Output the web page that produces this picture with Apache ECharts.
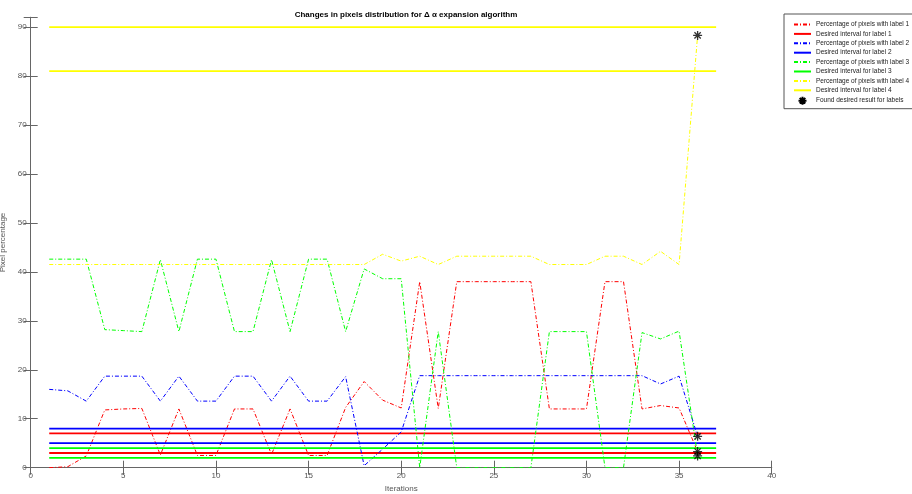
<!DOCTYPE html>
<html>
<head>
<meta charset="utf-8">
<script src="https://cdn.jsdelivr.net/npm/echarts@6/dist/echarts.min.js"></script>
<style>
  html, body { margin: 0; padding: 0; background: #fff; }
  #chart { width: 912px; height: 494px; }
</style>
</head>
<body>
<div id="chart"></div>
<script>
// iterations on the x axis
let iterations = [1, 2, 3, 4, 5, 6, 7, 8, 9, 10, 11, 12, 13, 14, 15, 16, 17, 18,
    19, 20, 21, 22, 23, 24, 25, 26, 27, 28, 29, 30, 31, 32, 33, 34, 35, 36];

// percentage of pixels per label
let label1 = [0, 0.2, 2.4, 11.8, 12, 12.1, 2.6, 12, 2.5, 2.5, 12, 12, 2.7, 12, 2.5, 2.5, 12.3, 17.6,
    13.8, 12.2, 38, 12.1, 38, 38, 38, 38, 38, 12, 12, 12, 38, 38, 12, 12.7, 12.2, 3.3];
let label2 = [16, 15.7, 13.6, 18.7, 18.7, 18.7, 13.6, 18.7, 13.6, 13.6, 18.7, 18.7, 13.6, 18.7, 13.6, 13.6, 18.6, 0.4,
    3.8, 7.3, 18.8, 18.8, 18.8, 18.8, 18.8, 18.8, 18.8, 18.8, 18.8, 18.8, 18.8, 18.8, 18.8, 17.1, 18.7, 6.4];
let label3 = [42.6, 42.6, 42.6, 28.2, 28, 27.8, 42.5, 27.8, 42.6, 42.6, 27.8, 27.8, 42.5, 27.8, 42.6, 42.6, 27.8, 40.6,
    38.6, 38.6, 0, 27.8, 0, 0, 0, 0, 0, 27.8, 27.8, 27.8, 0, 0, 27.6, 26.3, 27.9, 2.4];
let label4 = [41.5, 41.5, 41.5, 41.5, 41.5, 41.5, 41.5, 41.5, 41.5, 41.5, 41.5, 41.5, 41.5, 41.5, 41.5, 41.5, 41.5, 41.5,
    43.6, 42.2, 43.2, 41.5, 43.2, 43.2, 43.2, 43.2, 43.2, 41.5, 41.5, 41.5, 43.2, 43.2, 41.5, 44.2, 41.5, 88.3];

// desired intervals [low, high], drawn from iteration 1 to 37
let intervalSpan = [1, 37];
let interval1 = [3, 7];
let interval2 = [5, 8];
let interval3 = [2, 4];
let interval4 = [81, 90];

// found result at the last iteration
let foundX = 36;
let foundY = [88.3, 6.4, 3.3, 2.4];

let xTicks = { min: 0, max: 40, step: 5 };
let yTicks = { min: 0, max: 92, step: 10 };

let legendNames = [
    'Percentage of pixels with label 1', 'Desired interval for label 1',
    'Percentage of pixels with label 2', 'Desired interval for label 2',
    'Percentage of pixels with label 3', 'Desired interval for label 3',
    'Percentage of pixels with label 4', 'Desired interval for label 4',
    'Found desired result for labels'
];

const dashDot = [4, 2, 1, 2];
const fontFam = '"Liberation Sans", Arial, sans-serif';

function pairs(ys) {
    return iterations.map((x, i) => [x, ys[i]]);
}

function percentSeries(name, ys, color) {
    return {
        name: name, type: 'line', data: pairs(ys),
        symbol: 'none', animation: false,
        lineStyle: { color: color, width: 1, type: dashDot },
        itemStyle: { color: color }
    };
}

function intervalSeries(name, iv, color) {
    // two horizontal lines, separated by a null so they are not joined
    return {
        name: name, type: 'line', symbol: 'none', animation: false,
        connectNulls: false,
        data: [[intervalSpan[0], iv[0]], [intervalSpan[1], iv[0]], [null, null],
               [intervalSpan[0], iv[1]], [intervalSpan[1], iv[1]]],
        lineStyle: { color: color, width: 1.8, type: 'solid' },
        itemStyle: { color: color }
    };
}

const asterisk = 'path://M5,0L5,10M0,5L10,5M1.5,1.5L8.5,8.5M8.5,1.5L1.5,8.5';
const axisColor = '#666';
const labelColor = '#555';

// legend entries: line samples without a marker, the last one with the asterisk
let legendData = legendNames.map((n, i) => i < 8
    ? { name: n, itemStyle: { opacity: 0 } }
    : { name: n, itemStyle: { opacity: 1 } });

let chart = echarts.init(document.getElementById('chart'), null, { renderer: 'canvas' });

function boxAxis(extra) {
    return Object.assign({
        type: 'value',
        axisLine: { show: true, lineStyle: { color: axisColor, width: 1 } },
        axisTick: { show: true, inside: true, length: 7, lineStyle: { color: axisColor } },
        splitLine: { show: false }
    }, extra);
}

let option = {
    animation: false,
    backgroundColor: '#fff',
    textStyle: { fontFamily: fontFam },
    title: {
        text: 'Changes in pixels distribution for \u0394 \u03b1 expansion algorithm',
        left: 401, top: 6, textAlign: 'center',
        textStyle: { fontSize: 8, fontWeight: 'bold', color: '#000', fontFamily: fontFam }
    },
    legend: {
        orient: 'vertical', left: 784, top: 14,
        padding: [6.5, 12, 3, 9],
        itemWidth: 17, itemHeight: 8, itemGap: 1.4,
        borderColor: '#555', borderWidth: 1, backgroundColor: '#fff',
        textStyle: { fontSize: 6.5, color: '#222', fontFamily: fontFam, lineHeight: 8 },
        data: legendData
    },
    grid: { left: 30.7, right: 140.3, top: 17.3, bottom: 26.3, outerBoundsMode: 'none', containLabel: false },
    xAxis: [
        boxAxis({
            min: xTicks.min, max: xTicks.max, interval: xTicks.step,
            name: 'Iterations', nameLocation: 'middle', nameGap: 17,
            nameTextStyle: { fontSize: 8, color: labelColor },
            axisLabel: { fontSize: 8, color: labelColor, margin: 4 }
        }),
        boxAxis({
            position: 'top', min: xTicks.min, max: xTicks.max, interval: xTicks.step,
            axisLabel: { show: false }
        })
    ],
    yAxis: [
        boxAxis({
            min: yTicks.min, max: yTicks.max, interval: yTicks.step,
            name: 'Pixel percentage', nameLocation: 'middle', nameGap: 16,
            nameTextStyle: { fontSize: 8, color: labelColor },
            axisLabel: {
                fontSize: 8, color: labelColor, margin: 4,
                formatter: v => (v % yTicks.step === 0 ? String(v) : '')
            }
        }),
        boxAxis({
            position: 'right', min: yTicks.min, max: yTicks.max, interval: yTicks.step,
            axisLabel: { show: false }
        })
    ],
    series: [
        percentSeries(legendNames[0], label1, '#ff0000'),
        intervalSeries(legendNames[1], interval1, '#ff0000'),
        percentSeries(legendNames[2], label2, '#0000ff'),
        intervalSeries(legendNames[3], interval2, '#0000ff'),
        percentSeries(legendNames[4], label3, '#00ff00'),
        intervalSeries(legendNames[5], interval3, '#00ff00'),
        percentSeries(legendNames[6], label4, '#ffff00'),
        intervalSeries(legendNames[7], interval4, '#ffff00'),
        {
            name: legendNames[8], type: 'scatter', animation: false,
            symbol: asterisk, symbolSize: 9,
            data: foundY.map(y => [foundX, y]),
            itemStyle: { color: '#000', borderColor: '#000', borderWidth: 1.3 },
            z: 5
        }
    ]
};

option && chart.setOption(option);
</script>
</body>
</html>
